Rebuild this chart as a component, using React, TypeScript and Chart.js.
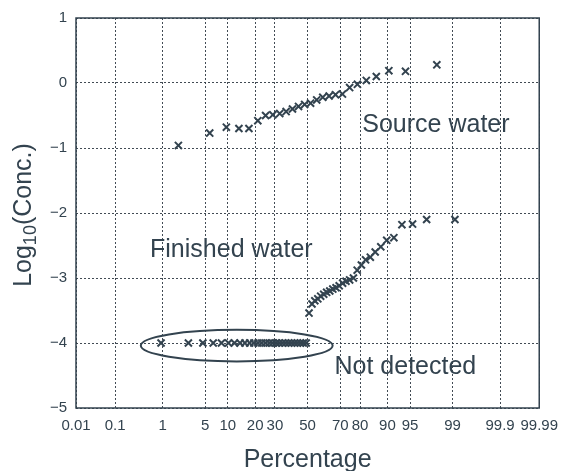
import React, { useEffect, useRef } from "react";
import { Chart, registerables } from "chart.js";

Chart.register(...registerables);

// ---- data ----
const tickPercents = [0.01, 0.1, 1, 5, 10, 20, 30, 50, 70, 80, 90, 95, 99, 99.9, 99.99];
const tickLabels = ["0.01", "0.1", "1", "5", "10", "20", "30", "50", "70", "80", "90", "95", "99", "99.9", "99.99"];
const yMin = -5;
const yMax = 1;

const sourcePct = [1.9, 5.8, 9.6, 13.5, 17.3, 21.2, 25, 28.8, 32.7, 36.5, 40.4, 44.2, 48.1, 51.9, 55.8, 59.6, 63.5, 67.3, 71.2, 75, 78.8, 82.7, 86.5, 90.4, 94.2, 98.1];
const sourceLogConc = [-0.96, -0.77, -0.68, -0.7, -0.7, -0.58, -0.5, -0.49, -0.47, -0.44, -0.4, -0.36, -0.33, -0.31, -0.26, -0.22, -0.2, -0.18, -0.17, -0.07, -0.02, 0.04, 0.1, 0.19, 0.18, 0.28];

const notDetectedPct = [0.93, 2.78, 4.63, 6.48, 8.33, 10.2, 12.0, 13.9, 15.7, 17.6, 19.4, 21.3, 23.1, 25.0, 26.9, 28.7, 30.6, 32.4, 34.3, 36.1, 38.0, 39.8, 41.7, 43.5, 45.4, 47.2, 49.1];
const notDetectedLogConc = [-4, -4, -4, -4, -4, -4, -4, -4, -4, -4, -4, -4, -4, -4, -4, -4, -4, -4, -4, -4, -4, -4, -4, -4, -4, -4, -4];

const finishedPct = [50.9, 52.8, 54.6, 56.5, 58.3, 60.2, 62.0, 63.9, 65.7, 67.6, 69.4, 71.3, 73.1, 75.0, 76.9, 78.7, 80.6, 82.4, 84.3, 86.1, 88.0, 89.8, 91.7, 93.5, 95.4, 97.2, 99.1];
const finishedLogConc = [-3.54, -3.4, -3.35, -3.32, -3.28, -3.25, -3.22, -3.2, -3.17, -3.15, -3.12, -3.08, -3.05, -3.03, -3.0, -2.88, -2.8, -2.72, -2.68, -2.6, -2.52, -2.42, -2.38, -2.18, -2.17, -2.1, -2.1];

// annotations (data coordinates)
const noteTexts = ["Source water", "Finished water", "Not detected"];
const notePct = [81, 0.57, 66.7];
const noteLog = [-0.65, -2.57, -4.37];

// ellipse around non-detects (data coordinates)
const ellipsePct = [0.37, 65.6];
const ellipseLog = [-4.04, 0.243];

// ---- inverse normal CDF (probability-scale transform) ----
function probit(pPercent: number): number {
  const p = pPercent / 100;
  const a = [-3.969683028665376e1, 2.209460984245205e2, -2.759285104469687e2, 1.38357751867269e2, -3.066479806614716e1, 2.506628277459239];
  const b = [-5.447609879822406e1, 1.615858368580409e2, -1.556989798598866e2, 6.680131188771972e1, -1.328068155288572e1];
  const c = [-7.784894002430293e-3, -3.223964580411365e-1, -2.400758277161838, -2.549732539343734, 4.374664141464968, 2.938163982698783];
  const d = [7.784695709041462e-3, 3.224671290700398e-1, 2.445134137142996, 3.754408661907416];
  const pl = 0.02425;
  let q, r;
  if (p < pl) {
    q = Math.sqrt(-2 * Math.log(p));
    return (((((c[0] * q + c[1]) * q + c[2]) * q + c[3]) * q + c[4]) * q + c[5]) / ((((d[0] * q + d[1]) * q + d[2]) * q + d[3]) * q + 1);
  } else if (p <= 1 - pl) {
    q = p - 0.5;
    r = q * q;
    return ((((((a[0] * r + a[1]) * r + a[2]) * r + a[3]) * r + a[4]) * r + a[5]) * q) / (((((b[0] * r + b[1]) * r + b[2]) * r + b[3]) * r + b[4]) * r + 1);
  } else {
    q = Math.sqrt(-2 * Math.log(1 - p));
    return -(((((c[0] * q + c[1]) * q + c[2]) * q + c[3]) * q + c[4]) * q + c[5]) / ((((d[0] * q + d[1]) * q + d[2]) * q + d[3]) * q + 1);
  }
}

const INK = "#33434f";
const FONT = '"Liberation Sans", Arial, Helvetica, sans-serif';

const toPoints = (pct: number[], vals: number[]) => pct.map((p, i) => ({ x: probit(p), y: vals[i] }));

export default function App() {
  const ref = useRef<HTMLCanvasElement | null>(null);

  useEffect(() => {
    if (!ref.current) return;
    const decor = {
      id: "decor",
      afterDatasetsDraw(chart: any) {
        const { ctx, chartArea, scales } = chart;
        const xs = scales.x;
        const ys = scales.y;
        ctx.save();
        // frame
        ctx.strokeStyle = INK;
        ctx.lineWidth = 1.5;
        ctx.setLineDash([]);
        ctx.strokeRect(chartArea.left, chartArea.top, chartArea.right - chartArea.left, chartArea.bottom - chartArea.top);
        // ellipse
        const x1 = xs.getPixelForValue(probit(ellipsePct[0]));
        const x2 = xs.getPixelForValue(probit(ellipsePct[1]));
        const cy = ys.getPixelForValue(ellipseLog[0]);
        const ry = Math.abs(ys.getPixelForValue(ellipseLog[0] + ellipseLog[1]) - cy);
        ctx.beginPath();
        ctx.ellipse((x1 + x2) / 2, cy, (x2 - x1) / 2, ry, 0, 0, Math.PI * 2);
        ctx.lineWidth = 2;
        ctx.stroke();
        // annotations
        ctx.fillStyle = INK;
        ctx.font = `25px ${FONT}`;
        ctx.textAlign = "left";
        ctx.textBaseline = "middle";
        noteTexts.forEach((t, i) => {
          ctx.fillText(t, xs.getPixelForValue(probit(notePct[i])), ys.getPixelForValue(noteLog[i]));
        });
        // x title
        ctx.textAlign = "center";
        ctx.textBaseline = "alphabetic";
        ctx.fillText("Percentage", (chartArea.left + chartArea.right) / 2, 467);
        // y title with subscript
        ctx.translate(31, (chartArea.top + chartArea.bottom) / 2 + 2);
        ctx.rotate(-Math.PI / 2);
        const big = `25px ${FONT}`;
        const small = `18px ${FONT}`;
        ctx.font = big;
        const w1 = ctx.measureText("Log").width;
        const w3 = ctx.measureText("(Conc.)").width;
        ctx.font = small;
        const w2 = ctx.measureText("10").width;
        let x = -(w1 + w2 + w3) / 2;
        ctx.textAlign = "left";
        ctx.font = big;
        ctx.fillText("Log", x, 0);
        x += w1;
        ctx.font = small;
        ctx.fillText("10", x, 5);
        x += w2;
        ctx.font = big;
        ctx.fillText("(Conc.)", x, 0);
        ctx.restore();
      },
    };

    const chart = new Chart(ref.current, {
      type: "scatter",
      data: {
        datasets: [
          { label: "Source water", data: toPoints(sourcePct, sourceLogConc) },
          { label: "Not detected", data: toPoints(notDetectedPct, notDetectedLogConc) },
          { label: "Finished water", data: toPoints(finishedPct, finishedLogConc) },
        ].map((d) => ({
          ...d,
          pointStyle: "crossRot",
          pointRadius: 5,
          pointBorderWidth: 2,
          borderColor: INK,
          backgroundColor: INK,
          pointBorderColor: INK,
          showLine: false,
        })),
      },
      options: {
        responsive: false,
        animation: false,
        devicePixelRatio: 1,
        layout: { padding: { left: 0, top: 18, right: 27, bottom: 0 } },
        plugins: { legend: { display: false }, tooltip: { enabled: false } },
        scales: {
          x: {
            type: "linear",
            min: probit(tickPercents[0]),
            max: probit(tickPercents[tickPercents.length - 1]),
            afterBuildTicks: (scale: any) => {
              scale.ticks = tickPercents.map((p) => ({ value: probit(p) }));
            },
            afterFit: (scale: any) => {
              scale.height = 63;
            },
            ticks: {
              autoSkip: false,
              maxRotation: 0,
              minRotation: 0,
              padding: 9,
              color: INK,
              font: { family: FONT, size: 15 },
              callback: (_v: any, i: number) => tickLabels[i],
            },
            grid: { color: "rgba(45,55,65,0.9)", lineWidth: 1, drawTicks: false },
            border: { display: false, dash: [2, 2] },
          },
          y: {
            type: "linear",
            min: yMin,
            max: yMax,
            afterFit: (scale: any) => {
              scale.width = 76;
            },
            ticks: {
              stepSize: 1,
              padding: 9,
              color: INK,
              font: { family: FONT, size: 15 },
              callback: (v: any) => (Number(v) < 0 ? "\u2212" + Math.abs(Number(v)) : String(v)),
            },
            grid: { color: "rgba(45,55,65,0.9)", lineWidth: 1, drawTicks: false },
            border: { display: false, dash: [2, 2] },
          },
        },
      },
      plugins: [decor],
    } as any);
    return () => chart.destroy();
  }, []);

  return (
    <div style={{ position: "absolute", left: 0, top: 0, width: 567, height: 471, background: "#fff" }}>
      <canvas ref={ref} width={567} height={471} />
    </div>
  );
}
